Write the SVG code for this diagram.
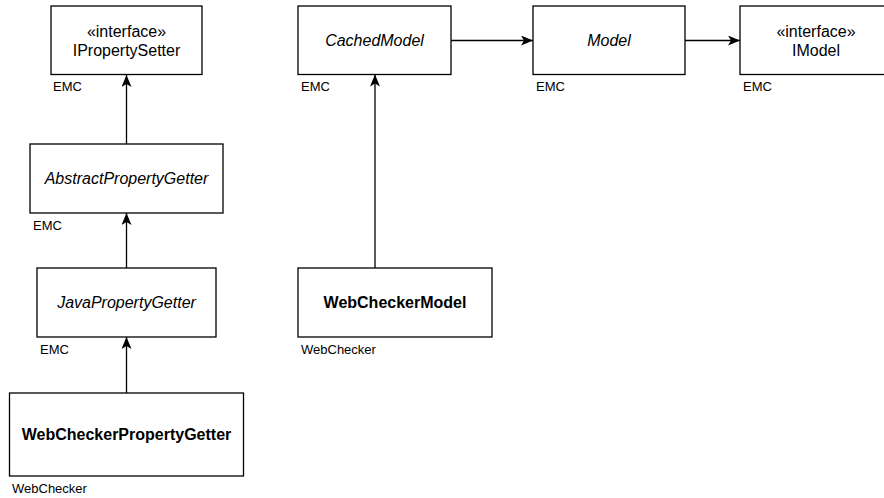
<svg xmlns="http://www.w3.org/2000/svg" width="884" height="498" viewBox="0 0 884 498">
<style>
.box{fill:#fff;stroke:#000;stroke-width:1.3}
.t{font-family:"Liberation Sans",Arial,sans-serif;font-size:16px;fill:#000;text-anchor:middle}
.i{font-style:italic}
.b{font-weight:bold}
.lbl{font-family:"Liberation Sans",Arial,sans-serif;font-size:13px;fill:#000}
.edge{fill:none;stroke:#000;stroke-width:1.3;marker-end:url(#arr)}
</style>
<defs>
<marker id="arr" markerUnits="userSpaceOnUse" markerWidth="13" markerHeight="11" refX="12" refY="5" orient="auto">
<path d="M0,0 L12,5 L0,10 L3,5 Z" fill="#000" stroke="none"/>
</marker>
</defs>
<rect width="884" height="498" fill="#fff"/>
<g id="connectors">
<path class="edge" d="M126.5,144 L126.5,75"/>
<path class="edge" d="M126.5,268 L126.5,213"/>
<path class="edge" d="M126.5,393 L126.5,337"/>
<path class="edge" d="M375,268 L375,74.5"/>
<path class="edge" d="M451,40.5 L533,40.5"/>
<path class="edge" d="M685,40.5 L740,40.5"/>
</g>
<g id="IPropertySetter">
<rect class="box" x="51" y="6" width="151" height="68.5"/>
<text class="t" x="126.5" y="37">«interface»</text>
<text class="t" x="126.5" y="56">IPropertySetter</text>
<text class="lbl" x="53" y="91">EMC</text>
</g>
<g id="AbstractPropertyGetter">
<rect class="box" x="30" y="144" width="193" height="69"/>
<text class="t i" x="126.5" y="184">AbstractPropertyGetter</text>
<text class="lbl" x="33" y="230">EMC</text>
</g>
<g id="JavaPropertyGetter">
<rect class="box" x="37" y="268" width="179" height="69"/>
<text class="t i" x="126.5" y="308">JavaPropertyGetter</text>
<text class="lbl" x="40" y="354">EMC</text>
</g>
<g id="WebCheckerPropertyGetter">
<rect class="box" x="9.5" y="393" width="234" height="83"/>
<text class="t b" x="126.5" y="440">WebCheckerPropertyGetter</text>
<text class="lbl" x="12" y="493">WebChecker</text>
</g>
<g id="CachedModel">
<rect class="box" x="298" y="6" width="153" height="68.5"/>
<text class="t i" x="374.5" y="46">CachedModel</text>
<text class="lbl" x="301" y="91">EMC</text>
</g>
<g id="Model">
<rect class="box" x="533" y="6" width="152" height="68.5"/>
<text class="t i" x="609" y="46">Model</text>
<text class="lbl" x="536" y="91">EMC</text>
</g>
<g id="IModel">
<rect class="box" x="740" y="6" width="152" height="68.5"/>
<text class="t" x="816" y="37">«interface»</text>
<text class="t" x="816" y="56">IModel</text>
<text class="lbl" x="743" y="91">EMC</text>
</g>
<g id="WebCheckerModel">
<rect class="box" x="298" y="268" width="194" height="69"/>
<text class="t b" x="395" y="308">WebCheckerModel</text>
<text class="lbl" x="301" y="354">WebChecker</text>
</g>
</svg>
